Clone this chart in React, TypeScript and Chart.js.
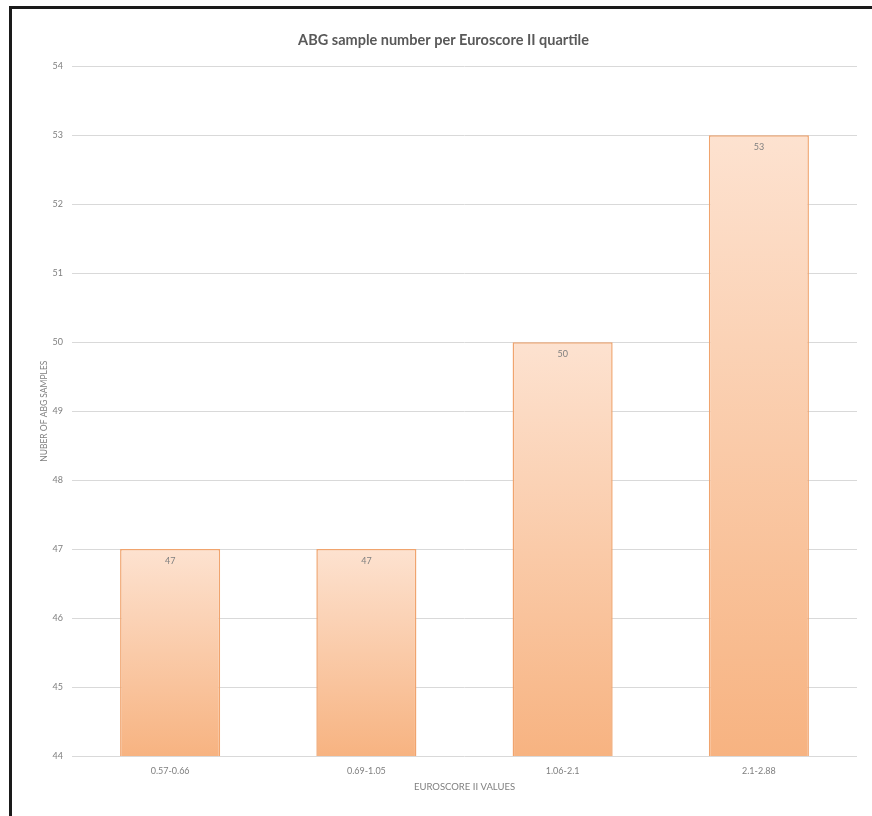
import React, { useEffect, useRef } from "react";
import { Chart, registerables } from "chart.js";

Chart.register(...registerables);

const TITLE = "ABG sample number per Euroscore II quartile";
const categories = ["0.57-0.66", "0.69-1.05", "1.06-2.1", "2.1-2.88"];
const sampleCounts = [47, 47, 50, 53];
const yMin = 44;
const yMax = 54;
const xAxisTitle = "EUROSCORE II VALUES";
const yAxisTitle = "NUBER OF ABG SAMPLES";

const FONT = "Lato, 'Open Sans', sans-serif";

const barLabels = {
  id: "barLabels",
  afterDatasetsDraw(chart: any) {
    const ctx = chart.ctx;
    const meta = chart.getDatasetMeta(0);
    ctx.save();
    ctx.font = `9px ${FONT}`;
    ctx.fillStyle = "#7f7f7f";
    ctx.textAlign = "center";
    ctx.textBaseline = "middle";
    meta.data.forEach((bar: any, i: number) => {
      ctx.fillText(String(sampleCounts[i]), bar.x, bar.y + 12);
    });
    // x axis title
    const area = chart.chartArea;
    ctx.font = `9.5px ${FONT}`;
    ctx.fillText(xAxisTitle, (area.left + area.right) / 2, area.bottom + 31);
    ctx.restore();
  },
};

export default function App() {
  const ref = useRef<HTMLCanvasElement>(null);

  useEffect(() => {
    if (!ref.current) return;
    const chart = new Chart(ref.current, {
      type: "bar",
      data: {
        labels: categories,
        datasets: [
          {
            data: sampleCounts,
            backgroundColor: (c: any) => {
              const ch = c.chart;
              const area = ch.chartArea;
              if (!area || c.dataIndex === undefined) return "#fbcfb0";
              const yScale = ch.scales.y;
              const top = yScale.getPixelForValue(sampleCounts[c.dataIndex]);
              const g = ch.ctx.createLinearGradient(0, top, 0, area.bottom);
              g.addColorStop(0, "#fde2d0");
              g.addColorStop(1, "#f7b381");
              return g;
            },
            borderColor: "#f0a46e",
            borderWidth: 1.5,
            borderSkipped: false,
            barPercentage: 0.51,
            categoryPercentage: 1,
          },
        ],
      },
      options: {
        responsive: false,
        animation: false,
        layout: { padding: { left: 30, right: 15, top: 0, bottom: 0 } },
        plugins: {
          legend: { display: false },
          tooltip: { enabled: false },
          title: {
            display: true,
            text: TITLE,
            color: "#595959",
            font: { family: FONT, size: 14.5, weight: "bold" },
            padding: { top: 32, bottom: 17 },
          },
        },
        scales: {
          x: {
            afterFit: (s: any) => {
              s.height = 60;
            },
            grid: { display: false },
            border: { display: false },
            ticks: {
              color: "#7f7f7f",
              font: { family: FONT, size: 9 },
              padding: 2,
              maxRotation: 0,
            },
          },
          y: {
            min: yMin,
            max: yMax,
            afterFit: (s: any) => {
              s.width = 42;
            },
            grid: { color: "#d9d9d9", drawTicks: false, lineWidth: 1 },
            border: { display: false },
            ticks: {
              stepSize: 1,
              color: "#7f7f7f",
              font: { family: FONT, size: 9 },
              padding: 9,
            },
            title: {
              display: true,
              text: yAxisTitle,
              color: "#7f7f7f",
              font: { family: FONT, size: 8.5 },
              padding: { top: 9, bottom: 0 },
            },
          },
        },
      },
      plugins: [barLabels],
    });
    return () => chart.destroy();
  }, []);

  return (
    <div style={{ position: "fixed", left: 0, top: 0, width: 872, height: 816, background: "#fff" }}>
      <canvas ref={ref} width={872} height={816} style={{ position: "absolute", left: 0, top: 0 }} />
      <div style={{ position: "absolute", left: 9, top: 6, width: 863, height: 3, background: "#1a1a1a" }} />
      <div style={{ position: "absolute", left: 9, top: 6, width: 3, height: 810, background: "#1a1a1a" }} />
    </div>
  );
}
